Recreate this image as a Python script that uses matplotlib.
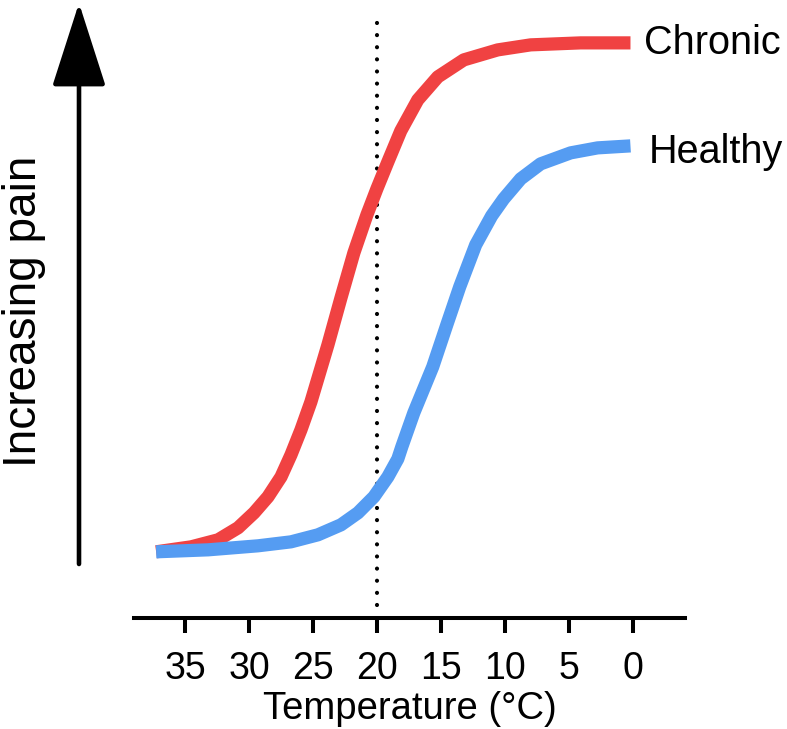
import matplotlib
matplotlib.use("Agg")
import matplotlib.pyplot as plt

plt.rcParams['font.family'] = ['Liberation Sans', 'DejaVu Sans']

# values (temperature in degC, pain in arbitrary units)
chronic_temp = [37.27, 34.53, 32.42, 30.86, 29.61, 28.52, 27.50, 26.72, 25.94,
                25.16, 23.83, 22.81, 21.80, 20.78, 20.00, 19.14, 18.13, 16.80,
                15.23, 13.20, 10.55, 7.97, 4.06, 0.16]
chronic_pain = [0.0, 0.98, 2.36, 4.72, 7.66, 10.81, 14.73, 19.06, 23.97,
                29.47, 40.67, 49.90, 58.74, 66.21, 71.32, 76.62, 82.71, 88.80,
                93.32, 96.66, 98.62, 99.61, 100.0, 100.0]

healthy_temp = [37.27, 33.20, 29.30, 26.72, 24.61, 22.81, 21.48, 20.23, 19.14,
                18.36, 18.05, 17.11, 15.63, 14.53, 13.52, 12.27, 11.02, 10.08,
                8.75, 7.19, 4.84, 2.73, 0.16]
healthy_pain = [0.0, 0.39, 1.18, 1.96, 3.34, 5.30, 7.66, 10.81, 14.73,
                18.27, 20.63, 27.31, 36.35, 44.60, 52.06, 60.31, 66.01, 69.35,
                73.28, 76.23, 78.39, 79.37, 79.76]

tick_vals = [35, 30, 25, 20, 15, 10, 5, 0]
threshold = 20

red = '#F04242'
blue = '#559CF2'

fig = plt.figure(figsize=(7.87, 7.29), dpi=100)
ax = fig.add_axes([0.1703, 0.1523, 0.700, 0.8203])

ax.plot(chronic_temp, chronic_pain, color=red, lw=9.5,
        solid_capstyle='butt', solid_joinstyle='round')
ax.plot(healthy_temp, healthy_pain, color=blue, lw=9.5,
        solid_capstyle='butt', solid_joinstyle='round')

ax.axvline(threshold, ymin=0.022, ymax=0.997, color='black', lw=3.0,
           linestyle=(0, (0.01, 2.9)), dash_capstyle='round', zorder=0)

ax.text(-0.9, chronic_pain[-1], 'Chronic', fontsize=28.5, va='center', ha='left')
ax.text(-1.3, healthy_pain[-1] - 1.2, 'Healthy', fontsize=28.5, va='center', ha='left')

ax.set_xlim(39, -4.1)
ax.set_ylim(-13, 104.5)
ax.set_xticks(tick_vals)
ax.set_xticklabels([str(v) for v in tick_vals])
ax.set_yticks([])
for s in ['top', 'right', 'left']:
    ax.spines[s].set_visible(False)
ax.spines['bottom'].set_linewidth(2.9)
ax.tick_params(axis='x', direction='out', length=10.8, width=2.9, pad=13, labelsize=27)
ax.set_xlabel('Temperature (°C)', fontsize=27.5, labelpad=3)

# the "increasing pain" arrow sits outside the axes
ax.annotate('', xy=(79, 729 - 3), xytext=(79, 729 - 564), xycoords='figure pixels',
            arrowprops=dict(arrowstyle='-|>,head_length=2.65,head_width=0.85',
                            mutation_scale=20, lw=3.3, color='black',
                            shrinkA=0, shrinkB=0))
fig.text(24 / 787, 1 - 311 / 729, 'Increasing pain', fontsize=33, rotation=90,
         ha='center', va='center')

fig.savefig('out.png', dpi=100, facecolor='white')
